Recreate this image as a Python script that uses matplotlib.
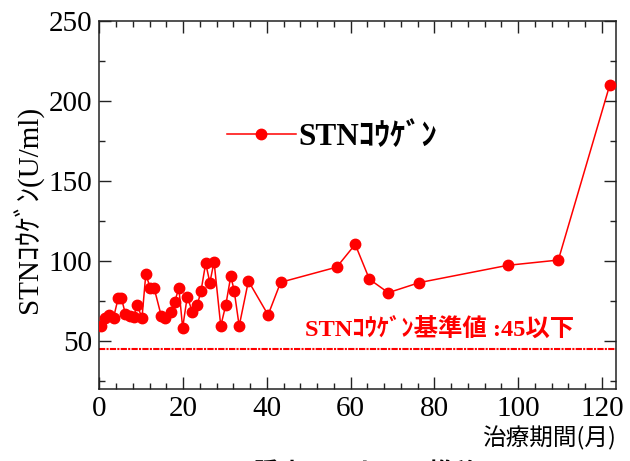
import matplotlib
matplotlib.use("Agg")
import matplotlib.pyplot as plt
from matplotlib.ticker import MultipleLocator

plt.rcParams['font.family'] = ['Liberation Serif', 'Noto Sans CJK JP', 'DejaVu Sans']

# Data (months of treatment, STN antigen U/ml)
months = [0.5, 1.4, 2.2, 3.4, 4.5, 5.3, 6.2, 7.4, 8.2, 9.0, 10.2, 11.1, 12.2, 13.1,
          14.8, 15.8, 17.1, 18.0, 19.0, 19.9, 21.0, 22.2, 23.4, 24.3, 25.4, 26.4,
          27.4, 29.0, 30.2, 31.4, 32.2, 33.4, 35.6, 40.3, 43.3, 56.7, 61.1, 64.5,
          69.0, 76.4, 97.5, 109.6, 121.9]
stn = [59.4, 64.0, 66.0, 64.4, 76.5, 76.5, 67.0, 65.7, 65.0, 72.3, 64.4, 91.5, 82.8,
       82.8, 65.4, 64.0, 67.7, 74.4, 82.8, 58.1, 77.5, 68.1, 72.3, 81.3, 98.4, 86.3,
       99.4, 59.2, 72.3, 90.4, 81.3, 59.2, 87.3, 66.1, 86.5, 96.0, 110.2, 88.4,
       80.0, 86.3, 97.1, 100.4, 210.0]
reference_value = 45
series_label = "STNｺｳｹﾞﾝ"
ylabel_text = "STNｺｳｹﾞﾝ(U/ml)"
xlabel_text = "治療期間(月)"
ref_text = "STNｺｳｹﾞﾝ基準値 :45以下"
caption_text = "図1 腫瘍マーカーの推移"
xticks = [0, 20, 40, 60, 80, 100, 120]
yticks = [50, 100, 150, 200, 250]

W, H = 630, 461
fig = plt.figure(figsize=(W / 100, H / 100), dpi=100)
ax = fig.add_axes([99.3 / W, 1 - 388.7 / H, (615.7 - 99.3) / W, (388.7 - 20.7) / H])

ax.plot(months, stn, color='#ff0000', lw=1.1, marker='o', ms=7.5,
        markeredgecolor='#ff0000', markerfacecolor='#ff0000', label=series_label,
        zorder=3)
ax.axhline(reference_value, color='#ff0000', lw=1.5, ls=(0, (3, 0.6, 1, 0.6)), zorder=2)

ax.set_xlim(0, 123.3)
ax.set_ylim(20, 250)
ax.set_xticks(xticks)
ax.set_yticks(yticks)
ax.xaxis.set_minor_locator(MultipleLocator(4))
ax.yaxis.set_minor_locator(MultipleLocator(25))
ax.tick_params(which='both', direction='in', top=True, right=True,
               width=1.0, color='#222222', labelsize=21, pad=5)
ax.tick_params(which='major', length=8.6)
ax.tick_params(which='minor', length=4.3)
for s in ax.spines.values():
    s.set_linewidth(1.1)
    s.set_color('#222222')

ax.set_ylabel(ylabel_text, fontsize=21, va='center')
ax.yaxis.set_label_coords(-0.138, 0.488)
ax.set_xlabel(xlabel_text, fontsize=17, ha='right', va='center',
              family=['Noto Sans CJK JP'])
ax.xaxis.set_label_coords(1.0, -0.134)

ax.text(49.0, 56.5, ref_text, color='#ff0000', fontsize=17.6, fontweight='bold',
        va='center', ha='left')

leg = ax.legend(loc='center left', bbox_to_anchor=(227 / W, 1 - 137 / H),
                bbox_transform=fig.transFigure, frameon=False, borderpad=0,
                borderaxespad=0, handlelength=2.2, handletextpad=0.1,
                prop={'size': 22.5, 'weight': 'bold'})

fig.text(343 / W, 1 - 462 / H, caption_text, ha='center', va='top',
         fontsize=18, fontweight='bold', family=['Noto Sans CJK JP'])

fig.savefig("out.png", dpi=100)
